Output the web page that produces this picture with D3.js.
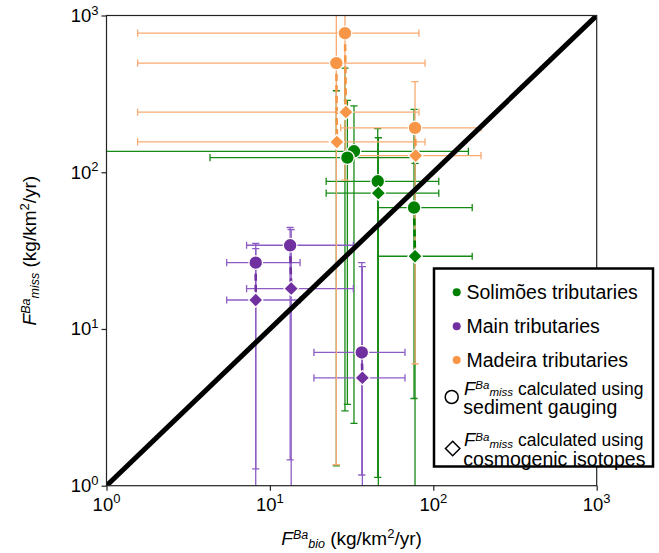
<!DOCTYPE html>
<html>
<head>
<meta charset="utf-8">
<script src="https://cdn.jsdelivr.net/npm/d3@7"></script>
<style>
  body { margin: 0; background: #fff; }
  svg text { font-family: "Liberation Sans", Arial, Helvetica, sans-serif; }
</style>
</head>
<body>
<div id="chart"></div>
<script>
// values (kg/km2/yr); m = marker, id pairs circle with diamond
var solimoes = [
  { id: "S1", m: "circle",  x: 32.7, y: 136,  xlo: 0.5,  xhi: 164, ylo: 2.5,  yhi: 265 },
  { id: "S2", m: "circle",  x: 29.8, y: 124,  xlo: 4.3,  xhi: 80,  ylo: 3.3,  yhi: 287 },
  { id: "S3", m: "diamond", x: 25.5, y: 156,  xlo: null, xhi: null, ylo: 1.34, yhi: 331 },
  { id: "S4", m: "diamond", x: 28.8, y: 242,  xlo: null, xhi: null, ylo: 3.0,  yhi: 461 },
  { id: "S5", m: "circle",  x: 45.7, y: 87.5, xlo: 22.1, xhi: 108, ylo: 1.13, yhi: 190 },
  { id: "S5", m: "diamond", x: 46.1, y: 73.6, xlo: 22.1, xhi: 108, ylo: 0.5,  yhi: 166 },
  { id: "S6", m: "circle",  x: 76.2, y: 59.5, xlo: 45.7, xhi: 173, ylo: 3.6,  yhi: 252 },
  { id: "S6", m: "diamond", x: 77.3, y: 29.1, xlo: 45.7, xhi: 173, ylo: 0.5,  yhi: 114 }
];
var mainTribs = [
  { id: "P1", m: "circle",  x: 13.3, y: 34.2, xlo: 7.2,  xhi: 32.4, ylo: 1.46, yhi: 44.4 },
  { id: "P1", m: "diamond", x: 13.5, y: 18.1, xlo: 7.2,  xhi: 32.4, ylo: 0.5,  yhi: 43 },
  { id: "P2", m: "circle",  x: 8.19, y: 26.5, xlo: 5.44, xhi: 15.3, ylo: 1.28, yhi: 35.1 },
  { id: "P2", m: "diamond", x: 8.19, y: 15.3, xlo: 5.44, xhi: 15.3, ylo: 0.5,  yhi: 32.6 },
  { id: "P3", m: "circle",  x: 36.5, y: 7.08, xlo: 18.6, xhi: 67.1, ylo: 1.17, yhi: 26.5 },
  { id: "P3", m: "diamond", x: 36.8, y: 4.88, xlo: 18.6, xhi: 67.1, ylo: 0.5,  yhi: 25 }
];
var madeira = [
  { id: "M1", m: "circle",  x: 28.8, y: 771,   xlo: 1.55, xhi: 81.7, ylo: 89,   yhi: 2000 },
  { id: "M1", m: "diamond", x: 29.2, y: 242,   xlo: 1.55, xhi: 81.7, ylo: null, yhi: null },
  { id: "M2", m: "circle",  x: 25.5, y: 497,   xlo: 1.55, xhi: 89,   ylo: 1.36, yhi: 2000 },
  { id: "M2", m: "diamond", x: 25.7, y: 156,   xlo: 1.55, xhi: 89,   ylo: null, yhi: null },
  { id: "M3", m: "circle",  x: 77.3, y: 192,   xlo: 27.1, xhi: 196,  ylo: 6.0,  yhi: 378 },
  { id: "M3", m: "diamond", x: 78,   y: 127.6, xlo: 33,   xhi: 196,  ylo: null, yhi: null }
];
var categories = ["Solimões tributaries", "Main tributaries", "Madeira tributaries"];
var tickValues = [1, 10, 100, 1000];
var tickExp = ["0", "1", "2", "3"];

var series = [
  { name: categories[0], data: solimoes,  fill: "#008000", err: "#158a15" },
  { name: categories[1], data: mainTribs, fill: "#7030a0", err: "#8c5cc4" },
  { name: categories[2], data: madeira,   fill: "#f79646", err: "#f9aa72" }
];

var width = 659, height = 553;
var margin = { top: 15.5, right: 62.3, bottom: 67.3, left: 106.5 };

var svg = d3.select("#chart").append("svg")
    .attr("width", width)
    .attr("height", height);

var x = d3.scaleLog().domain([1, 1000]).range([margin.left, width - margin.right]);
var y = d3.scaleLog().domain([1, 1000]).range([height - margin.bottom, margin.top]);

svg.append("clipPath").attr("id", "plotclip")
  .append("rect")
    .attr("x", x(1)).attr("y", y(1000))
    .attr("width", x(1000) - x(1)).attr("height", y(1) - y(1000));

var plot = svg.append("g").attr("clip-path", "url(#plotclip)");

var diamond = function(s) { return "M0," + (-s) + "L" + s + ",0L0," + s + "L" + (-s) + ",0Z"; };
var cap = 3.6;

// error bars
series.forEach(function(s) {
  var g = plot.append("g")
      .attr("stroke", s.err)
      .attr("stroke-width", 1.3)
      .attr("fill", "none");
  s.data.forEach(function(d) {
    if (d.xlo != null) {
      g.append("line").attr("x1", x(d.xlo)).attr("x2", x(d.xhi)).attr("y1", y(d.y)).attr("y2", y(d.y));
      [d.xlo, d.xhi].forEach(function(v) {
        g.append("line").attr("x1", x(v)).attr("x2", x(v)).attr("y1", y(d.y) - cap).attr("y2", y(d.y) + cap);
      });
    }
    if (d.ylo != null) {
      g.append("line").attr("x1", x(d.x)).attr("x2", x(d.x)).attr("y1", y(d.ylo)).attr("y2", y(d.yhi));
      [d.ylo, d.yhi].forEach(function(v) {
        g.append("line").attr("x1", x(d.x) - cap).attr("x2", x(d.x) + cap).attr("y1", y(v)).attr("y2", y(v));
      });
    }
  });
});

// dashed link between the two estimates of one tributary
series.forEach(function(s) {
  var byId = d3.group(s.data, d => d.id);
  byId.forEach(function(pts) {
    var c = pts.find(p => p.m === "circle"), dm = pts.find(p => p.m === "diamond");
    if (!c || !dm) return;
    plot.append("line")
      .attr("x1", x(c.x)).attr("y1", y(c.y))
      .attr("x2", x(dm.x)).attr("y2", y(dm.y))
      .attr("stroke", s.fill)
      .attr("stroke-width", 2.6)
      .attr("stroke-dasharray", "7,4");
  });
});

// markers
series.forEach(function(s) {
  plot.append("g").selectAll("path")
    .data(s.data)
    .enter()
    .append("path")
      .attr("transform", d => "translate(" + x(d.x) + "," + y(d.y) + ")")
      .attr("d", d => d.m === "circle" ? d3.symbol(d3.symbolCircle, Math.PI * 6.8 * 6.8)() : diamond(7.2))
      .attr("fill", s.fill)
      .attr("stroke", "#fff")
      .attr("stroke-width", 1.2);
});

// 1:1 line
plot.append("line")
  .attr("x1", x(1)).attr("y1", y(1))
  .attr("x2", x(1000)).attr("y2", y(1000))
  .attr("stroke", "#000")
  .attr("stroke-width", 5);

// frame and axes
svg.append("rect")
  .attr("x", x(1)).attr("y", y(1000))
  .attr("width", x(1000) - x(1)).attr("height", y(1) - y(1000))
  .attr("fill", "none").attr("stroke", "#222").attr("stroke-width", 1.2);

function richText(sel, parts) {
  var prev = 0;
  parts.forEach(function(p) {
    var shift = p.shift || 0;
    var t = sel.append("tspan")
      .attr("font-size", p.size)
      .attr("dy", (prev - shift) + "px")
      .text(p.t);
    if (p.italic) t.attr("font-style", "italic");
    prev = shift;
  });
}

var tickFont = 18.5;
svg.append("g")
  .attr("transform", "translate(0," + y(1) + ")")
  .call(d3.axisBottom(x).tickValues(tickValues).tickSize(5).tickFormat(""))
  .call(g => g.select(".domain").remove())
  .call(g => g.selectAll(".tick line").attr("stroke", "#222").attr("stroke-width", 1.2));

svg.append("g")
  .attr("transform", "translate(" + x(1) + ",0)")
  .call(d3.axisLeft(y).tickValues(tickValues).tickSize(5).tickFormat(""))
  .call(g => g.select(".domain").remove())
  .call(g => g.selectAll(".tick line").attr("stroke", "#222").attr("stroke-width", 1.2));

tickValues.forEach(function(v, i) {
  var tx = svg.append("text")
    .attr("x", x(v)).attr("y", y(1) + 25)
    .attr("text-anchor", "middle");
  richText(tx, [{ t: "10", size: tickFont }, { t: tickExp[i], size: 13, shift: 7.5 }]);
  var ty = svg.append("text")
    .attr("x", x(1) - 8).attr("y", y(v) + 6.5)
    .attr("text-anchor", "end");
  richText(ty, [{ t: "10", size: tickFont }, { t: tickExp[i], size: 13, shift: 7.5 }]);
});

function fluxLabel(sub) {
  return [
    { t: "F", size: 19, italic: true },
    { t: "Ba", size: 12.5, italic: true, shift: 6.5 },
    { t: sub, size: 12.5, italic: true, shift: -2.5 },
    { t: " (kg/km", size: 19 },
    { t: "2", size: 13, shift: 7.5 },
    { t: "/yr)", size: 19 }
  ];
}

var xl = svg.append("text")
  .attr("x", (x(1) + x(1000)) / 2)
  .attr("y", height - 8)
  .attr("text-anchor", "middle");
richText(xl, fluxLabel("bio"));

var yl = svg.append("text")
  .attr("transform", "translate(36," + ((y(1) + y(1000)) / 2) + ") rotate(-90)")
  .attr("text-anchor", "middle");
richText(yl, fluxLabel("miss"));

// legend
var leg = svg.append("g");
leg.append("rect")
  .attr("x", 434).attr("y", 268.5)
  .attr("width", 219).attr("height", 198)
  .attr("fill", "#fff").attr("stroke", "#000").attr("stroke-width", 2.5);

var legFont = 19.5;
series.forEach(function(s, i) {
  var cy = 292.3 + i * 33.9;
  leg.append("circle").attr("cx", 456.7).attr("cy", cy).attr("r", 4).attr("fill", s.fill);
  leg.append("text").attr("x", 466.5).attr("y", cy + 7)
    .attr("font-size", legFont).text(s.name);
});

var methods = [
  ["calculated using", "sediment gauging"],
  ["calculated using", "cosmogenic isotopes"]
];
methods.forEach(function(lines, i) {
  var cy = 397 + i * 51.5;
  if (i === 0) {
    leg.append("circle").attr("cx", 451.7).attr("cy", cy).attr("r", 6.5)
      .attr("fill", "#fff").attr("stroke", "#000").attr("stroke-width", 1.5);
  } else {
    leg.append("path").attr("transform", "translate(452.7," + cy + ")").attr("d", diamond(7.2))
      .attr("fill", "#fff").attr("stroke", "#000").attr("stroke-width", 1.5);
  }
  var t1 = leg.append("text").attr("x", 464).attr("y", cy - 2.5);
  richText(t1, [
    { t: "F", size: 18.5, italic: true },
    { t: "Ba", size: 11.5, italic: true, shift: 5.5 },
    { t: "miss", size: 11.5, italic: true, shift: -1.5 },
    { t: " " + lines[0], size: 17.5 }
  ]);
  leg.append("text").attr("x", 463.3).attr("y", cy + 17)
    .attr("font-size", legFont).text(lines[1]);
});
</script>
</body>
</html>
